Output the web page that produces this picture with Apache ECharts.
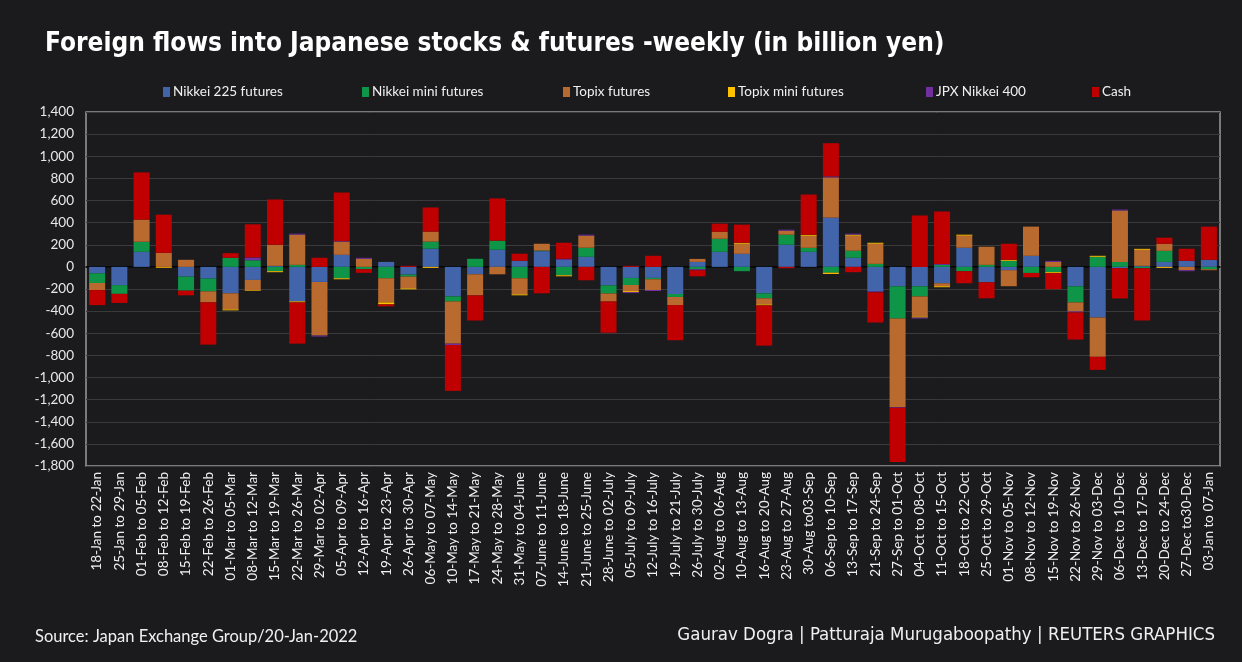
<!DOCTYPE html>
<html><head><meta charset="utf-8">
<script src="https://cdn.jsdelivr.net/npm/echarts@6/dist/echarts.min.js"></script>
<style>html,body{margin:0;padding:0;background:#1b1b1d;}#c{width:1242px;height:662px;}</style>
</head><body><div id="c"></div>
<script>
const categories = ["18-Jan to 22-Jan","25-Jan to 29-Jan","01-Feb to 05-Feb","08-Feb to 12-Feb","15-Feb to 19-Feb","22-Feb to 26-Feb","01-Mar to 05-Mar","08-Mar to 12-Mar","15-Mar to 19-Mar","22-Mar to 26-Mar","29-Mar to 02-Apr","05-Apr to 09-Apr","12-Apr to 16-Apr","19-Apr to 23-Apr","26-Apr to 30-Apr","06-May to 07-May","10-May to 14-May","17-May to 21-May","24-May to 28-May","31-May to 04-June","07-June to 11-June","14-June to 18-June","21-June to 25-June","28-June to 02-July","05-July to 09-July","12-July to 16-July","19-July to 21-July","26-July to 30-July","02-Aug to 06-Aug","10-Aug to 13-Aug","16-Aug to 20-Aug","23-Aug to 27-Aug","30-Aug to03-Sep","06-Sep to 10-Sep","13-Sep to 17-Sep","21-Sep to 24-Sep","27-Sep to 01-Oct","04-Oct to 08-Oct","11-Oct to 15-Oct","18-Oct to 22-Oct","25-Oct to 29-Oct","01-Nov to 05-Nov","08-Nov to 12-Nov","15-Nov to 19-Nov","22-Nov to 26-Nov","29-Nov to 03-Dec","06-Dec to 10-Dec","13-Dec to 17-Dec","20-Dec to 24-Dec","27-Dec to30-Dec","03-Jan to 07-Jan"];
const nikkei225 = [-58,-165,136,0,-88,-106,-239,-118,9,-312,-136,109,0,45,-70,164,-267,-67,155,55,142,64,91,-167,-100,-100,-245,45,136,118,-239,200,136,445,82,-221,-176,-176,-148,173,-139,-30,100,0,-176,-458,-12,9,45,55,64];
const nikkeiMini = [-88,-79,91,0,-127,-115,82,60,-39,18,0,-103,-21,-103,-18,64,-45,73,82,-103,6,-76,82,-73,-64,-12,-27,-21,118,-39,-45,91,36,-52,64,27,-291,-91,18,-39,18,55,-55,-48,-145,91,45,-12,100,0,-21];
const topix = [-64,0,200,127,64,-100,-145,-91,191,273,-485,118,73,-218,-106,91,-382,-191,-67,-145,61,0,109,-73,-55,-97,-73,27,64,91,-55,36,109,364,136,182,-800,-182,-27,109,164,-145,264,45,-82,-355,464,145,64,-30,-9];
const topixMini = [0,0,0,-8,0,0,-9,-6,-9,-9,0,-9,0,-18,-9,-9,0,0,0,-9,0,-9,0,0,-9,0,0,0,0,9,-9,0,9,-12,9,9,0,-9,-9,9,0,9,0,-9,0,9,0,9,-9,0,0];
const jpx400 = [0,0,0,0,0,0,0,25,0,9,-9,6,9,0,0,0,-12,0,0,0,0,9,9,0,-9,-9,0,-9,0,0,0,9,0,9,9,-9,-6,-9,9,0,0,0,0,9,-9,0,9,0,0,-9,0];
const cash = [-136,-82,427,345,-42,-382,42,300,409,-373,82,439,-33,-18,9,218,-415,-227,382,64,-239,145,-121,-282,9,100,-318,-55,73,164,-364,-12,364,300,-48,-273,-491,464,473,-109,-145,145,-39,-145,-245,-118,-273,-473,55,109,300];
const seriesNames = ["Nikkei 225 futures","Nikkei mini futures","Topix futures","Topix mini futures","JPX Nikkei 400","Cash"];

const seriesData = [nikkei225, nikkeiMini, topix, topixMini, jpx400, cash];
const colors = ["#4264aa","#0f9548","#b96a2e","#ffc000","#7030a0","#c00000"];
const legendLeft = [158, 357, 558, 723, 921, 1087];
const narrow = '"Liberation Sans Narrow","DejaVu Sans Condensed",sans-serif';

const chart = echarts.init(document.getElementById('c'), null, {renderer:'canvas'});
chart.setOption({
  backgroundColor: '#1b1b1d',
  animation: false,
  color: colors,
  title: [
    {text: 'Foreign flows into Japanese stocks & futures -weekly (in billion yen)', left: 40, top: 26,
     textStyle: {color: '#ffffff', fontSize: 26, fontWeight: 'bold', fontFamily: narrow}},
    {text: 'Source: Japan Exchange Group/20-Jan-2022', left: 30, top: 623,
     textStyle: {color: '#f0f0f0', fontSize: 16.5, fontWeight: 'normal', fontFamily: 'Lato'}},
    {text: 'Gaurav Dogra | Patturaja Murugaboopathy | REUTERS GRAPHICS', right: 22, top: 621,
     textStyle: {color: '#f0f0f0', fontSize: 18.5, fontWeight: 'normal', fontFamily: narrow}}
  ],
  legend: seriesNames.map((n, i) => ({
    data: [n], left: legendLeft[i], top: 80, itemWidth: 7, itemHeight: 10, itemGap: 4,
    icon: 'rect', textStyle: {color: '#f0f0f0', fontSize: 13.5, fontFamily: 'Lato', padding: [0,0,0,-2]}
  })),
  grid: {left: 86, right: 22, top: 112, bottom: 196, show: true, borderColor: '#9a9a9a', borderWidth: 1.5, backgroundColor: 'transparent'},
  xAxis: {
    type: 'category', data: categories,
    axisLine: {onZero: true, lineStyle: {color: '#000000', width: 1.5}},
    axisTick: {show: false},
    axisLabel: {rotate: 90, interval: 0, color: '#f0f0f0', fontSize: 13.5, fontFamily: 'Lato', margin: 6}
  },
  yAxis: {
    type: 'value', min: -1800, max: 1400, interval: 200,
    axisLine: {show: false}, axisTick: {show: false},
    splitLine: {lineStyle: {color: '#3a3a3c', width: 1}},
    axisLabel: {color: '#e8e8e8', fontSize: 13.5, fontFamily: 'Lato', margin: 12,
      formatter: v => v.toLocaleString('en-US')}
  },
  series: seriesNames.map((n, i) => ({
    name: n, type: 'bar', stack: 'total', data: seriesData[i],
    barCategoryGap: '28%', itemStyle: {color: colors[i]}
  }))
});
</script></body></html>
